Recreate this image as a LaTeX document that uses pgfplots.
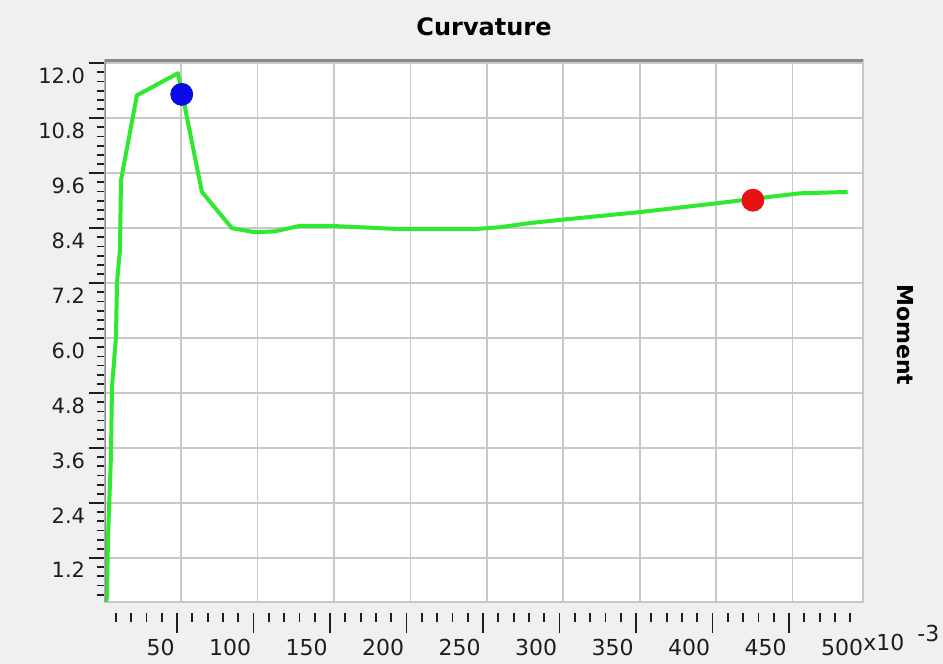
\documentclass[border=0pt]{standalone}
\usepackage{pgfplots}
\pgfplotsset{compat=1.18}
\usepackage{fontspec}
\setmainfont{DejaVu Sans}
\definecolor{bg}{HTML}{F0F0F0}
\definecolor{curve}{HTML}{2EEA2E}
\definecolor{gridc}{HTML}{C8C8C8}
\definecolor{framec}{HTML}{8A8A8A}
\definecolor{txt}{HTML}{1E1E1E}
\definecolor{dotblue}{HTML}{0A0AE6}
\definecolor{dotred}{HTML}{E81010}
\begin{document}
\begin{tikzpicture}
\fill[bg] (0,0) rectangle (471.5pt,332pt);
\path[use as bounding box] (0,0) rectangle (471.5pt,332pt);
% main plot
\begin{axis}[
  at={(52.25pt,31pt)}, anchor=south west,
  scale only axis, width=379.25pt, height=271pt,
  xmin=0, xmax=496, ymin=0.24, ymax=12.07,
  axis background/.style={fill=white},
  xtick={50,100,150,200,250,300,350,400,450},
  xticklabels={},
  xtick style={draw=none},
  ytick={1.2,2.4,3.6,4.8,6.0,7.2,8.4,9.6,10.8,12.0},
  yticklabels={1.2,2.4,3.6,4.8,6.0,7.2,8.4,9.6,10.8,12.0},
  minor ytick={0.4,0.6,...,12.0},
  ytick pos=left,
  tick align=outside,
  major tick length=7.5pt, minor tick length=3.5pt,
  every tick/.style={txt, line width=0.9pt},
  grid=major,
  major grid style={gridc, line width=0.8pt},
  minor grid style={draw=none},
  axis line style={gridc, line width=0.8pt},
  yticklabel style={font=\fontsize{10.5}{12}\selectfont, text=txt, anchor=north east, inner sep=0pt, xshift=-2pt, yshift=-2pt},
  clip=true,
]
\addplot[curve, line width=2pt, line join=round] coordinates {
(1.0,0.24) (1.6,0.35) (2.3,1.66) (4.2,3.40) (4.9,4.93) (7.5,6.02) (8.2,7.22)
(10.1,7.92) (10.8,9.45) (21.2,11.30) (48.0,11.78) (50.7,11.35) (63.7,9.19)
(83.3,8.40) (98.4,8.31) (111.4,8.33) (127.8,8.45) (147.4,8.45) (193.1,8.38)
(242.2,8.38) (258.5,8.42) (278.1,8.51) (301,8.59) (350,8.75) (402.3,8.95)
(454.6,9.16) (486,9.19)
};
\addplot[only marks, mark=*, mark size=5.5pt, dotblue] coordinates {(50.5,11.32)};
\addplot[only marks, mark=*, mark size=5.5pt, dotred] coordinates {(424,9.01)};
\draw[framec, line width=1.6pt] (rel axis cs:0,1) -- (rel axis cs:1,1);
\draw[framec, line width=1.6pt] (rel axis cs:0,0) -- (rel axis cs:0,1);
\end{axis}
% lower x tick axis
\begin{axis}[
  at={(50.25pt,25.5pt)}, anchor=south west,
  scale only axis, width=382.5pt, height=1pt,
  xmin=0, xmax=500, ymin=0, ymax=1,
  axis y line=none,
  axis x line*=bottom,
  x axis line style={draw=none},
  xtick={50,100,150,200,250,300,350,400,450},
  xticklabels={50,100,150,200,250,300,350,400,450},
  extra x ticks={500}, extra x tick labels={500},
  extra x tick style={major tick style={draw=none}},
  minor xtick={10,20,...,490},
  tick align=outside,
  major tick length=10pt, minor tick length=4.5pt,
  every tick/.style={txt, line width=0.9pt},
  xticklabel style={font=\fontsize{11}{13}\selectfont, text=txt, anchor=north east, inner sep=0pt, xshift=-1pt, yshift=-3pt},
]
\end{axis}
\node[anchor=base west, inner sep=0pt, text=txt, font=\fontsize{11}{13}\selectfont] at (431.5pt,6.5pt) {x10};
\node[anchor=base west, inner sep=0pt, text=txt, font=\fontsize{11}{13}\selectfont] at (458.5pt,11pt) {-3};
\node[font=\bfseries\fontsize{12}{14}\selectfont, text=black] at (242pt,318.5pt) {Curvature};
\node[font=\bfseries\fontsize{11}{13}\selectfont, text=black, rotate=-90] at (452.5pt,164.5pt) {Moment};
\end{tikzpicture}
\end{document}
